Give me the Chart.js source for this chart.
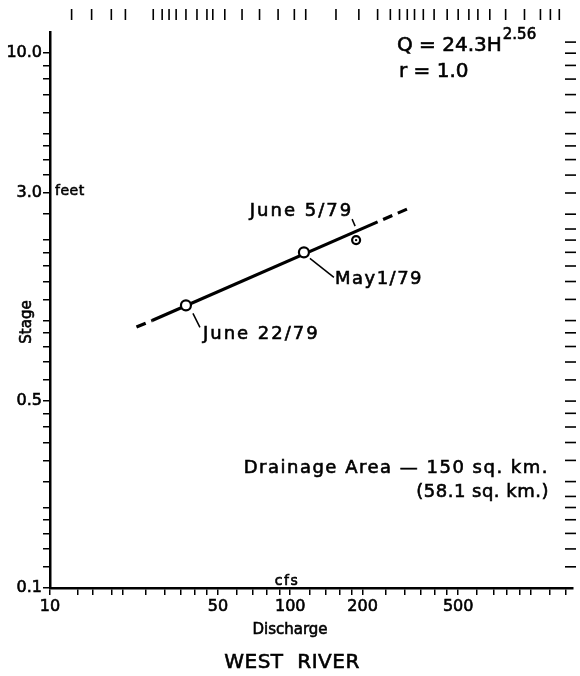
<!DOCTYPE html>
<html>
<head>
<meta charset="utf-8">
<title>West River rating curve</title>
<script src="https://cdn.jsdelivr.net/npm/chart.js@4.4.0/dist/chart.umd.min.js"></script>
<style>
  html, body { margin: 0; padding: 0; background: #fff; }
</style>
</head>
<body>
<canvas id="ratingChart" width="580" height="676"></canvas>
<script>
// measured points (discharge cfs, stage feet)
const pointDates = ['June 22/79', 'May1/79', 'June 5/79'];
const pointDischarge = [36.8, 114, 188];
const pointStage = [1.14, 1.80, 2.0];

// fitted rating line: dashed end, solid part, dashed end
const fitDischarge = [22.9, 26.6, 231, 318];
const fitStage = [0.946, 1.0, 2.34, 2.65];

// axis ticks
const xTickValues = [10, 13, 15, 18, 20, 25, 30, 35, 40, 45, 50, 60, 70, 80, 90, 100, 120, 140, 160, 180,
                     200, 250, 300, 350, 400, 450, 500, 600, 700, 800, 900, 1000, 1200, 1400];
const xLabelValues = [10, 50, 100, 200, 500];
const xLabelText = ['10', '50', '100', '200', '500'];
const yTickValues = [0.1, 0.12, 0.14, 0.16, 0.18, 0.2, 0.25, 0.3, 0.35, 0.4, 0.45, 0.5, 0.6, 0.7, 0.8, 0.9,
                     1, 1.2, 1.4, 1.6, 1.8, 2, 2.5, 3, 3.5, 4, 4.5, 5, 6, 7, 8, 9, 10];
const yLabelValues = [0.1, 0.5, 3, 10];
const yLabelText = ['0.1', '0.5', '3.0', '10.0'];

// loose tick marks of the log paper along top and right edge
const topTickValues = [12.3, 14.9, 18, 20.6, 26.9, 29.3, 31.3, 33.5, 36.8, 40.9, 45, 47.6, 53.4, 63, 74.5, 89,
                       104, 116, 155, 193, 231, 261, 285, 307, 329, 358, 397, 450, 500, 554, 604, 677, 788,
                       944, 1100, 1210, 1318];
const rightTickValues = [0.12, 0.14, 0.16, 0.18, 0.2, 0.22, 0.25, 0.3, 0.35, 0.4, 0.45, 0.5, 0.6, 0.7, 0.8,
                         0.9, 1, 1.2, 1.4, 1.6, 1.8, 2, 2.2, 2.5, 3, 3.5, 4, 4.5, 5, 6, 7, 8, 9, 10, 11];

const FONT = '"DejaVu Sans", "Liberation Sans", sans-serif';

function labelFor(values, texts) {
  return function(value) {
    const i = values.findIndex(v => Math.abs(v - value) < 1e-9);
    return i >= 0 ? texts[i] : '';
  };
}

// pen lettering is a bit heavier than the regular face, so stroke it lightly too
function drawText(ctx, text, x, y, size, align, spacing) {
  ctx.font = size + 'px ' + FONT;
  ctx.textAlign = align || 'left';
  ctx.textBaseline = 'middle';
  if ('letterSpacing' in ctx) ctx.letterSpacing = (spacing || 0) + 'px';
  ctx.lineWidth = 0.6;
  ctx.fillText(text, x, y);
  ctx.strokeText(text, x, y);
  if ('letterSpacing' in ctx) ctx.letterSpacing = '0px';
}

function line(ctx, x1, y1, x2, y2) {
  ctx.beginPath();
  ctx.moveTo(x1, y1);
  ctx.lineTo(x2, y2);
  ctx.stroke();
}

const paperPlugin = {
  id: 'paperMarks',
  afterDraw(chart) {
    const ctx = chart.ctx;
    const x = chart.scales.x, y = chart.scales.y;
    ctx.save();
    ctx.strokeStyle = '#000';
    ctx.fillStyle = '#000';

    ctx.lineWidth = 1.6;
    topTickValues.forEach(v => {
      const px = x.getPixelForValue(v);
      line(ctx, px, 9, px, 20);
    });
    rightTickValues.forEach(v => {
      const py = y.getPixelForValue(v);
      line(ctx, 565, py, 576, py);
    });

    // point labels with leader lines
    const p = pointDischarge.map((q, i) => [x.getPixelForValue(q), y.getPixelForValue(pointStage[i])]);
    ctx.lineWidth = 1.5;
    line(ctx, p[0][0] + 7, p[0][1] + 8, p[0][0] + 14, p[0][1] + 22);
    line(ctx, p[1][0] + 6, p[1][1] + 6, p[1][0] + 30, p[1][1] + 25);
    line(ctx, p[2][0] - 4, p[2][1] - 21, p[2][0] - 1, p[2][1] - 14);
    drawText(ctx, pointDates[0], p[0][0] + 17, p[0][1] + 29, 18, 'left', 2);
    drawText(ctx, pointDates[1], p[1][0] + 31, p[1][1] + 27, 18, 'left', 1.5);
    drawText(ctx, pointDates[2], p[2][0] - 3, p[2][1] - 29, 18, 'right', 2);

    // equation
    const eq = 'Q = 24.3H';
    drawText(ctx, eq, 397, 46, 20, 'left');
    ctx.font = '20px ' + FONT;
    const w = ctx.measureText(eq).width;
    drawText(ctx, '2.56', 397 + w + 1, 35, 15, 'left');
    drawText(ctx, 'r = 1.0', 399, 72, 20, 'left');

    drawText(ctx, 'Drainage Area \u2014 150 sq. km.', 549, 468, 18, 'right', 1.5);
    drawText(ctx, '(58.1 sq. km.)', 549, 492, 18, 'right', 0.5);

    // axis words
    drawText(ctx, 'feet', 55, 191, 14, 'left', 0.5);
    drawText(ctx, 'cfs', 287, 581, 14, 'center', 1.5);
    drawText(ctx, 'Discharge', 290, 630, 15, 'center');
    drawText(ctx, 'WEST  RIVER', 292, 663, 20, 'center', 0.5);
    ctx.save();
    ctx.translate(27, 322);
    ctx.rotate(-Math.PI / 2);
    drawText(ctx, 'Stage', 0, 0, 15, 'center');
    ctx.restore();

    ctx.restore();
  }
};

const fitData = fitDischarge.map((q, i) => ({ x: q, y: fitStage[i] }));
const pointData = pointDischarge.map((q, i) => ({ x: q, y: pointStage[i] }));

new Chart(document.getElementById('ratingChart'), {
  type: 'scatter',
  data: {
    datasets: [
      {
        label: 'Measured',
        data: pointData,
        pointRadius: [5, 5, 4],
        pointBackgroundColor: '#fff',
        pointBorderColor: '#000',
        pointBorderWidth: 2.2,
        order: 1
      },
      {
        label: 'Centre dot',
        data: [pointData[2]],
        pointRadius: 1.2,
        pointBackgroundColor: '#000',
        pointBorderWidth: 0,
        order: 0
      },
      {
        label: 'Rating',
        data: fitData,
        showLine: true,
        borderColor: '#000',
        borderWidth: 3.2,
        pointRadius: 0,
        segment: {
          borderDash: c => c.p0DataIndex === 1 ? [] : [10, 6],
          borderDashOffset: c => c.p0DataIndex === 2 ? 10 : 0
        },
        order: 2
      }
    ]
  },
  options: {
    responsive: false,
    animation: false,
    devicePixelRatio: 1,
    layout: { padding: { top: 32, right: 3, left: 0, bottom: 0 } },
    plugins: {
      legend: { display: false },
      tooltip: { enabled: false }
    },
    scales: {
      x: {
        type: 'logarithmic',
        position: 'bottom',
        min: 10,
        max: 1500,
        afterBuildTicks: s => { s.ticks = xTickValues.map(v => ({ value: v })); },
        afterFit: s => { s.height = 88; },
        border: { display: true, color: '#000', width: 2.5 },
        grid: { drawOnChartArea: false, drawTicks: true, tickLength: 7, color: '#000', lineWidth: 1.5 },
        ticks: {
          autoSkip: false, maxRotation: 0, minRotation: 0, padding: 2,
          color: '#000', font: { family: FONT, size: 16 },
          textStrokeColor: '#000', textStrokeWidth: 0.6,
          callback: labelFor(xLabelValues, xLabelText)
        }
      },
      y: {
        type: 'logarithmic',
        position: 'left',
        min: 0.1,
        max: 12,
        afterBuildTicks: s => { s.ticks = yTickValues.map(v => ({ value: v })); },
        afterFit: s => { s.width = 50; },
        border: { display: true, color: '#000', width: 2.5 },
        grid: { drawOnChartArea: false, drawTicks: true, tickLength: 7, color: '#000', lineWidth: 1.5 },
        ticks: {
          autoSkip: false, padding: 1,
          color: '#000', font: { family: FONT, size: 16 },
          textStrokeColor: '#000', textStrokeWidth: 0.6,
          callback: labelFor(yLabelValues, yLabelText)
        }
      }
    }
  },
  plugins: [paperPlugin]
});
</script>
</body>
</html>
